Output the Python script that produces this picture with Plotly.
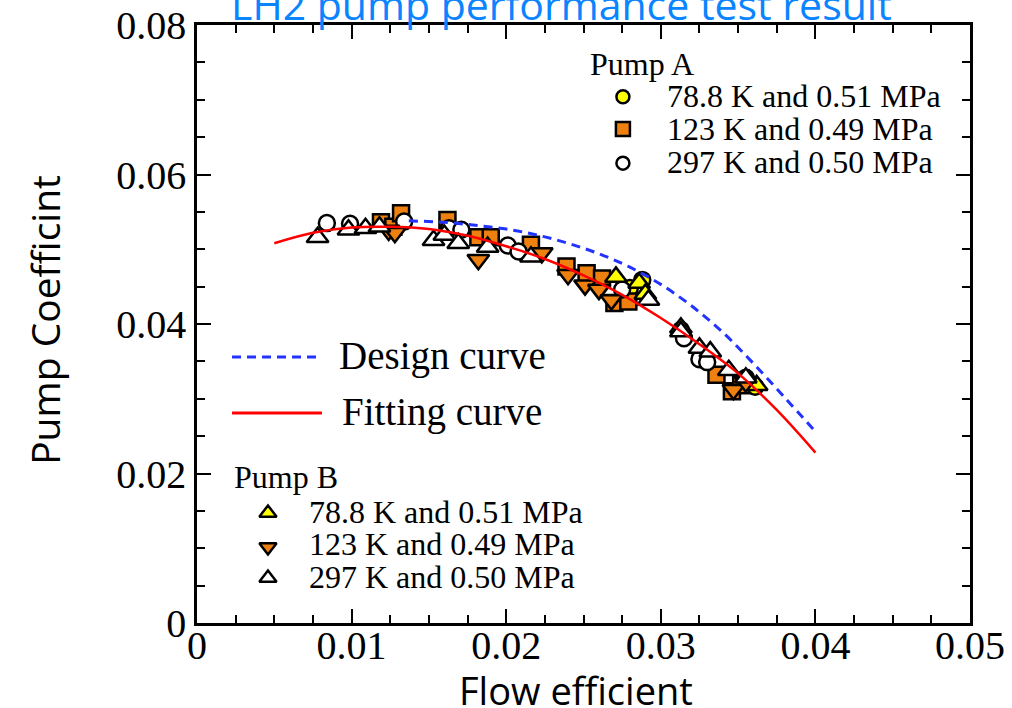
import plotly.graph_objects as go

# ---------------- data ----------------
# Pump A
a_788_x = [0.0280, 0.0288, 0.0313, 0.0355, 0.0361]
a_788_y = [0.0448, 0.0459, 0.0392, 0.0328, 0.0316]

a_123_x = [0.0119, 0.0127, 0.0132, 0.0162, 0.0182, 0.0190, 0.0216, 0.0239,
           0.0252, 0.0262, 0.0270, 0.0279, 0.0336, 0.0346, 0.0352]
a_123_y = [0.0536, 0.0530, 0.0548, 0.0539, 0.0516, 0.0516, 0.0506, 0.0477,
           0.0468, 0.0461, 0.0428, 0.0430, 0.0332, 0.0310, 0.0318]

a_297_x = [0.0084, 0.0099, 0.0134, 0.0163, 0.0171, 0.0201, 0.0208, 0.0275,
           0.0315, 0.0325, 0.0330]
a_297_y = [0.0535, 0.0534, 0.0537, 0.0528, 0.0526, 0.0505, 0.0497, 0.0446,
           0.0381, 0.0353, 0.0349]

# Pump B
b_788_x = [0.0271, 0.0286, 0.0290, 0.0313, 0.0357, 0.0362]
b_788_y = [0.0463, 0.0455, 0.0440, 0.0395, 0.0325, 0.0318]

b_123_x = [0.0124, 0.0128, 0.0182, 0.0223, 0.0240, 0.0251, 0.0260, 0.0268,
           0.0347, 0.0355]
b_123_y = [0.0525, 0.0522, 0.0486, 0.0495, 0.0466, 0.0452, 0.0446, 0.0432,
           0.0312, 0.0322]

b_297_x = [0.0078, 0.0098, 0.0109, 0.0118, 0.0153, 0.0160, 0.0169, 0.0188,
           0.0216, 0.0292, 0.0313, 0.0325, 0.0332, 0.0344, 0.0355]
b_297_y = [0.0516, 0.0526, 0.0528, 0.0530, 0.0512, 0.0519, 0.0508, 0.0503,
           0.0490, 0.0432, 0.0390, 0.0368, 0.0363, 0.0338, 0.0328]

# Curves
design_x = [0.0137, 0.016, 0.018, 0.020, 0.022, 0.024, 0.026, 0.028,
            0.030, 0.032, 0.034, 0.036, 0.038, 0.040]
design_y = [0.0538, 0.0536, 0.0532, 0.0527, 0.0519, 0.0508, 0.0494, 0.0476,
            0.0453, 0.0424, 0.0389, 0.0347, 0.0302, 0.0256]

fit_x = [0.005, 0.0075, 0.010, 0.0125, 0.015, 0.0175, 0.020, 0.0225,
         0.025, 0.0275, 0.030, 0.0325, 0.035, 0.0375, 0.040]
fit_y = [0.0508, 0.0522, 0.0529, 0.0530, 0.0527, 0.0518, 0.0504, 0.0487,
         0.0465, 0.0439, 0.0408, 0.0373, 0.0334, 0.0285, 0.0228]

series_labels = ["78.8 K and 0.51 MPa", "123 K and 0.49 MPa", "297 K and 0.50 MPa"]
title_text = "LH2 pump performance test result"
x_title = "Flow efficient"
y_title = "Pump Coefficint"

# ---------------- styles ----------------
YEL = "#FFFF00"
ORG = "#EE8010"
WHT = "#FFFFFF"
BLK = "#000000"
SERIF = "Liberation Serif"
SANS = "Open Sans"

fig = go.Figure()

def pts(x, y, sym, col, size):
    fig.add_trace(go.Scatter(
        x=x, y=y, mode="markers", showlegend=False, hoverinfo="skip",
        marker=dict(symbol=sym, color=col, size=size,
                    line=dict(color=BLK, width=2.5))))

pts(a_788_x, a_788_y, "circle", YEL, 16)
pts(a_123_x, a_123_y, "square", ORG, 16)
pts(a_297_x, a_297_y, "circle", WHT, 16)
pts(b_788_x, b_788_y, "triangle-up", YEL, 19)
pts(b_123_x, b_123_y, "triangle-down", ORG, 19)
pts(b_297_x, b_297_y, "triangle-up", WHT, 19)

fig.add_trace(go.Scatter(x=design_x, y=design_y, mode="lines", showlegend=False,
                         hoverinfo="skip", line=dict(color="#2233FF", width=3,
                         dash="9px,6px", shape="spline")))
fig.add_trace(go.Scatter(x=fit_x, y=fit_y, mode="lines", showlegend=False,
                         hoverinfo="skip", line=dict(color="#FF0000", width=2.5,
                         shape="spline")))

# ---------------- hand-made legends (overlay axes in paper fractions) ----------------
legA_x = 0.551
legA_y = [0.880, 0.826, 0.769]
legB_x = 0.0918
legB_y = [0.184, 0.127, 0.0753]

legA_sym = ["circle", "square", "circle"]
legA_col = [YEL, ORG, WHT]
legA_size = [13, 14, 13]
legB_sym = ["triangle-up", "triangle-down", "triangle-up"]
legB_col = [YEL, ORG, WHT]

for i in range(3):
    fig.add_trace(go.Scatter(x=[legA_x], y=[legA_y[i]], xaxis="x2", yaxis="y2",
                             mode="markers", showlegend=False, hoverinfo="skip",
                             marker=dict(symbol=legA_sym[i], color=legA_col[i],
                                         size=legA_size[i], line=dict(color=BLK, width=2.5))))
    fig.add_trace(go.Scatter(x=[legB_x], y=[legB_y[i]], xaxis="x2", yaxis="y2",
                             mode="markers", showlegend=False, hoverinfo="skip",
                             marker=dict(symbol=legB_sym[i], color=legB_col[i],
                                         size=15, line=dict(color=BLK, width=2.5))))

# legend lines for curves
fig.add_trace(go.Scatter(x=[0.0453, 0.1617], y=[0.445, 0.445], xaxis="x2", yaxis="y2",
                         mode="lines", showlegend=False, hoverinfo="skip",
                         line=dict(color="#2233FF", width=3, dash="9px,6px")))
fig.add_trace(go.Scatter(x=[0.0453, 0.1617], y=[0.351, 0.351], xaxis="x2", yaxis="y2",
                         mode="lines", showlegend=False, hoverinfo="skip",
                         line=dict(color="#FF0000", width=3)))

ann = []
def txt(x, y, s, size, font=SERIF, color=BLK, xanchor="left", angle=0):
    ann.append(dict(xref="paper", yref="paper", x=x, y=y, text=s, showarrow=False,
                    xanchor=xanchor, yanchor="middle", textangle=angle,
                    font=dict(family=font, size=size, color=color)))

txt(0.5058, 0.935, "Pump A", 32)
for i in range(3):
    txt(0.6054, [0.881, 0.826, 0.771][i], series_labels[i], 32)
txt(0.0453, 0.244, "Pump B", 32)
for i in range(3):
    txt(0.1423, [0.1856, 0.1321, 0.0769][i], series_labels[i], 32)
txt(0.1811, 0.4465, "Design curve", 39)
txt(0.185, 0.3528, "Fitting curve", 39)

# axis titles
txt(0.490, -0.112, x_title, 38, font=SANS, xanchor="center")
txt(-0.1966, 0.507, y_title, 39, font=SANS, xanchor="center", angle=-90)

# clipped title at top
ann.append(dict(xref="paper", yref="paper", x=0.471, y=0.985, text=title_text,
                showarrow=False, xanchor="center", yanchor="bottom",
                font=dict(family=SANS, size=41, color="#0A84FF")))

axis_common = dict(
    showline=True, linewidth=2.5, linecolor=BLK, mirror="allticks",
    ticks="inside", ticklen=14, tickwidth=2, tickcolor=BLK,
    showgrid=False, zeroline=False, automargin=False,
    tickfont=dict(family=SERIF, size=40, color=BLK),
)

fig.update_layout(
    width=1012, height=708,
    margin=dict(l=197, r=42, t=25, b=85, autoexpand=False),
    paper_bgcolor="white", plot_bgcolor="white",
    showlegend=False,
    annotations=ann,
    xaxis=dict(range=[0, 0.05], dtick=0.01, tick0=0, ticklabelstandoff=-15,
               minor=dict(ticks="inside", dtick=0.0025, ticklen=8, tickwidth=2,
                          tickcolor=BLK),
               **axis_common),
    yaxis=dict(range=[0, 0.08], dtick=0.02, tick0=0,
               minor=dict(ticks="inside", dtick=0.005, ticklen=8, tickwidth=2,
                          tickcolor=BLK),
               **axis_common),
    xaxis2=dict(overlaying="x", range=[0, 1], visible=False, fixedrange=True),
    yaxis2=dict(overlaying="y", range=[0, 1], visible=False, fixedrange=True),
)

fig.write_html("out.html", config={"displayModeBar": False},
               post_script="document.body.style.margin='0';document.body.style.overflow='hidden';")
